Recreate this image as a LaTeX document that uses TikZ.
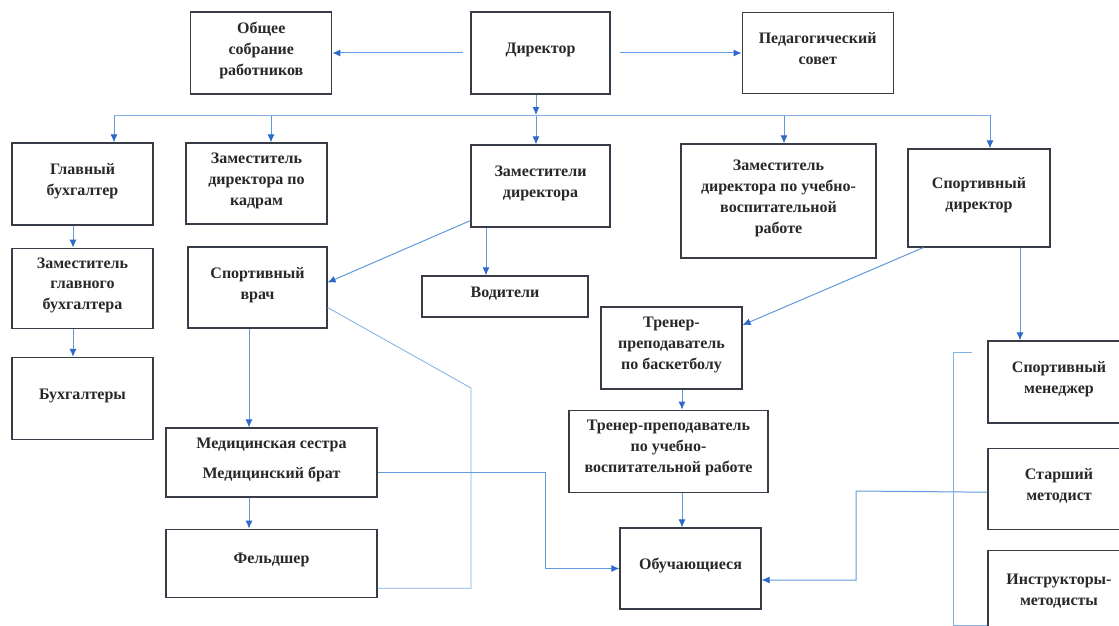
\documentclass[tikz,border=0pt]{standalone}
\usepackage{fontspec}
\setmainfont{Liberation Serif}
\usetikzlibrary{arrows.meta, positioning}
\definecolor{linecol}{RGB}{95,155,220}
\definecolor{tipcol}{RGB}{45,105,200}
\definecolor{boxcol}{RGB}{55,60,70}
\definecolor{txtcol}{RGB}{40,40,40}

\begin{document}
\begin{tikzpicture}[x=1pt, y=-1pt, node distance=20pt, >={Latex[length=8pt, width=7pt, color=tipcol]},
  every node/.style={font=\fontsize{16}{21}\selectfont\bfseries, text=txtcol}]
  % Define styles
  \tikzstyle{box} = [rectangle, draw=boxcol, line width=1.2pt, align=center, inner sep=2pt, execute at end node={\rule[-9pt]{0pt}{0pt}}]
  \tikzstyle{arrow} = [draw=linecol, line width=1pt, ->]
  \tikzstyle{link} = [draw=linecol!80, line width=0.8pt]

  \fill[white] (0,0) rectangle (1119,626);
  \useasboundingbox (0,0) rectangle (1119,626);

  % Place nodes
  \node [box, minimum width=139pt, minimum height=82pt] (dir) at (540.5,53) {Директор};
  \node [box, minimum width=141pt, minimum height=82pt, left=138pt of dir] (obsh) {Общее\\собрание\\работников};
  \node [box, minimum width=151pt, minimum height=81pt, right=131pt of dir] (ped) {Педагогический\\совет};

  \node [box, minimum width=141pt, minimum height=82pt] (glbuh) at (82.5,184) {Главный\\бухгалтер};
  \node [box, minimum width=141pt, minimum height=81pt] (kadr) at (256.5,183.5) {Заместитель\\директора по\\кадрам};
  \node [box, minimum width=139pt, minimum height=82pt] (zam) at (540.5,186) {Заместители\\директора};
  \node [box, minimum width=195pt, minimum height=114pt] (uvr) at (778.5,201) {Заместитель\\директора по учебно-\\воспитательной\\работе};
  \node [box, minimum width=142pt, minimum height=98pt] (sportdir) at (979,198) {Спортивный\\директор};

  \node [box, minimum width=141pt, minimum height=80pt, below=22pt of glbuh] (zamglbuh) {Заместитель\\главного\\бухгалтера};
  \node [box, minimum width=141pt, minimum height=82pt, below=28pt of zamglbuh] (buh) {Бухгалтеры};

  \node [box, minimum width=139pt, minimum height=81pt] (vrach) at (257.5,287.5) {Спортивный\\врач};
  \node [box, minimum width=211pt, minimum height=69pt] (med) at (271.5,462.5) {Медицинская сестра\\[9pt]Медицинский брат};
  \node [box, minimum width=211pt, minimum height=68pt, below=31pt of med] (feld) {Фельдшер};
  \node [box, minimum width=166pt, minimum height=41pt] (vod) at (505,296.5) {Водители};

  \node [box, minimum width=141pt, minimum height=82pt] (basket) at (671.5,348) {Тренер-\\преподаватель\\по баскетболу};
  \node [box, minimum width=199pt, minimum height=82pt, below=20pt of basket, xshift=-3pt] (tuvr) {Тренер-преподаватель\\по учебно-\\воспитательной работе};
  \node [box, minimum width=141pt, minimum height=81pt] (obuch) at (690.5,568.5) {Обучающиеся};

  \node [box, minimum width=142pt, minimum height=82pt] (menedzh) at (1059,382) {Спортивный\\менеджер};
  \node [box, minimum width=142pt, minimum height=81pt, below=24pt of menedzh] (starsh) {Старший\\методист};
  \node [box, minimum width=142pt, minimum height=88pt, below=20pt of starsh] (instr) {Инструкторы-\\методисты};

  % Draw edges
  \path [arrow, shorten <=7pt] (dir.west) -- (obsh.east);
  \path [arrow, shorten <=9pt] (dir.east) -- (ped.west);

  \foreach \x/\n in {114/glbuh, 271/kadr, 536/zam, 784/uvr, 990/sportdir} {
    \coordinate (bus-\n) at (\x,115);
    \path [arrow] (bus-\n) -- (bus-\n |- \n.north);
  }
  \path [link] (bus-glbuh) -- (bus-sportdir);
  \path [arrow] (dir.south -| bus-zam) -- (bus-zam);

  \path [arrow] ([xshift=-9.5pt]glbuh.south) -- ([xshift=-9.5pt]zamglbuh.north);
  \path [arrow] ([xshift=-9.5pt]zamglbuh.south) -- ([xshift=-9.5pt]buh.north);

  \path [arrow] ([xshift=-54.5pt]zam.south) -- ([xshift=-54.5pt]zam.south |- vod.north);
  \path [arrow] ([yshift=7pt]zam.south west) -- ([yshift=5pt]vrach.east);
  \path [arrow] ([xshift=-8.5pt]vrach.south) -- ([xshift=-8.5pt]vrach.south |- med.north);
  \path [arrow] ([xshift=-22.5pt]med.south) -- ([xshift=-22.5pt]feld.north);

  \coordinate (vf) at (471,388);
  \path [link] ([yshift=-20pt]vrach.east) -- (vf) |- ([yshift=-25pt]feld.east);
  \coordinate (mo) at (545,472);
  \path [arrow] ([yshift=-9.5pt]med.east) -- (mo) |- (obuch.west);

  \path [arrow] ([xshift=16pt]sportdir.south west) -- ([yshift=23pt]basket.east);
  \path [arrow] ([xshift=41pt]sportdir.south) -- ([xshift=41pt]sportdir.south |- menedzh.north);
  \path [arrow] ([xshift=10.5pt]basket.south) -- ([xshift=10.5pt]basket.south |- tuvr.north);
  \path [arrow] ([xshift=13.5pt]tuvr.south) -- ([xshift=13.5pt]tuvr.south |- obuch.north);

  \coordinate (so) at (856,491);
  \path [arrow] ([yshift=-3.5pt]starsh.west) -- (so) |- ([yshift=-11.5pt]obuch.east);
  \coordinate (br) at (972,352);
  \coordinate (br2) at (953,352);
  \path [link] (br) -- (br2) |- ([yshift=-31pt]instr.west);

\end{tikzpicture}
\end{document}
